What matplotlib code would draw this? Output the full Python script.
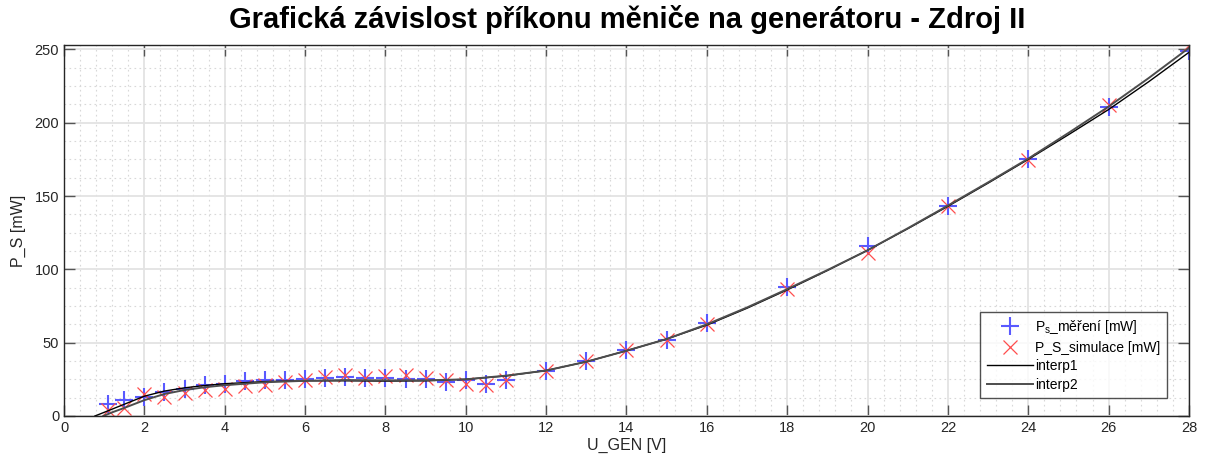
import numpy as np
import matplotlib
matplotlib.use('Agg')
import matplotlib.pyplot as plt
from matplotlib.ticker import MultipleLocator

# measured / simulated input power of the converter vs generator voltage
u_gen = [1.1, 1.5, 2, 2.5, 3, 3.5, 4, 4.5, 5, 5.5, 6, 6.5, 7, 7.5, 8, 8.5,
         9, 9.5, 10, 10.5, 11, 12, 13, 14, 15, 16, 18, 20, 22, 24, 26, 28]
p_mereni = [8.0, 10.8, 13.0, 16.5, 18.7, 21.0, 22.0, 23.7, 24.4, 24.4, 25.0,
            26.2, 26.6, 26.2, 26.2, 25.5, 25.0, 23.2, 24.4, 22.1, 24.4, 30.5,
            37.3, 44.7, 52.0, 63.5, 88.3, 115.8, 143.5, 175.0, 211.0, 249.0]
p_simulace = [4.0, 5.4, 14.7, 13.0, 15.4, 18.0, 18.7, 20.3, 21.0, 23.2, 24.4,
              26.6, 27.8, 26.2, 27.1, 27.8, 26.2, 24.4, 22.1, 21.0, 24.4, 30.5,
              37.3, 44.7, 52.0, 63.0, 86.7, 111.3, 143.0, 174.5, 212.0, 253.0]

# fitted curves
u_fit1 = [0.77, 1, 1.5, 2, 2.5, 3, 3.5, 4, 5, 6, 7, 8, 9, 10, 11, 12, 13,
          14, 15, 16, 17, 18, 19, 20, 21, 22, 23, 24, 25, 26, 27, 28]
p_fit1 = [0, 2.5, 8.0, 13.5, 17.0, 19.2, 20.8, 22.0, 23.5, 24.0, 24.0, 23.8,
          24.0, 25.0, 27.3, 31.0, 37.0, 44.5, 52.5, 62.0, 73.5, 86.0, 99.2,
          113.0, 127.7, 143.0, 158.8, 175.0, 191.8, 209.0, 228.0, 248.0]
u_fit2 = [0.98, 1.2, 1.5, 2, 2.5, 3, 3.5, 4, 5, 6, 7, 8, 9, 10, 11, 12, 13,
          14, 15, 16, 17, 18, 19, 20, 21, 22, 23, 24, 25, 26, 27, 28]
p_fit2 = [0, 2.5, 5.5, 10.8, 15.0, 17.7, 19.6, 21.0, 23.0, 24.0, 24.5, 24.3,
          24.3, 25.0, 27.5, 31.0, 37.0, 44.5, 52.5, 62.5, 74.0, 86.5, 99.5,
          113.0, 128.0, 143.5, 159.3, 175.5, 193.0, 211.0, 230.5, 251.0]

plt.rcParams['font.family'] = ['Liberation Sans', 'DejaVu Sans']
plt.rcParams['mathtext.fontset'] = 'custom'
plt.rcParams['mathtext.rm'] = 'Liberation Sans'

fig = plt.figure(figsize=(12.1, 4.65), dpi=100)
ax = fig.add_axes([0.0529, 0.1054, 0.9297, 0.7978])

ax.plot(u_gen, p_mereni, '+', color=(0.35, 0.35, 1.0), ms=13, mew=1.5,
        label=r'P$_\mathregular{s}$_měření [mW]')
ax.plot(u_gen, p_simulace, 'x', color=(1.0, 0.3, 0.3), ms=10, mew=0.9,
        label='P_S_simulace [mW]')
ax.plot(u_fit1, p_fit1, '-', color='black', lw=1.0, label='interp1')
ax.plot(u_fit2, p_fit2, '-', color=(0.3, 0.3, 0.3), lw=1.4, label='interp2')

ax.set_xlim(0, 28)
ax.set_ylim(0, max(p_simulace))
ax.xaxis.set_major_locator(MultipleLocator(2))
ax.xaxis.set_minor_locator(MultipleLocator(0.4))
ax.yaxis.set_major_locator(MultipleLocator(50))
ax.yaxis.set_minor_locator(MultipleLocator(12.5))

ax.grid(which='major', color='#e3e3e3', lw=1.3, ls='-')
ax.grid(which='minor', color='#d8d8d8', lw=0.8, ls=(0, (1.5, 3)))
ax.set_axisbelow(True)

ax.tick_params(which='major', direction='in', length=8, width=1.0,
               top=True, right=True, color='#555555',
               labelsize=10.5, labelcolor='#262626')
ax.tick_params(which='minor', length=0, top=True, right=True)
for s in ax.spines.values():
    s.set_color('#262626')
    s.set_linewidth(1.0)

ax.set_xlabel('U_GEN [V]', fontsize=11.5, color='#262626', labelpad=2)
ax.set_ylabel('P_S [mW]', fontsize=11.5, color='#262626', labelpad=6)
fig.suptitle('Grafická závislost příkonu měniče na generátoru - Zdroj II',
             x=0.518, y=0.99, fontsize=21, fontweight='bold')

leg = ax.legend(loc='lower right', bbox_to_anchor=(0.9865, 0.03),
                fontsize=10, frameon=True, fancybox=False,
                edgecolor='#262626', handlelength=3.3, handletextpad=0.2,
                borderpad=0.45, labelspacing=0.32)
leg.get_frame().set_linewidth(1.0)

fig.savefig('out.png', dpi=100)
